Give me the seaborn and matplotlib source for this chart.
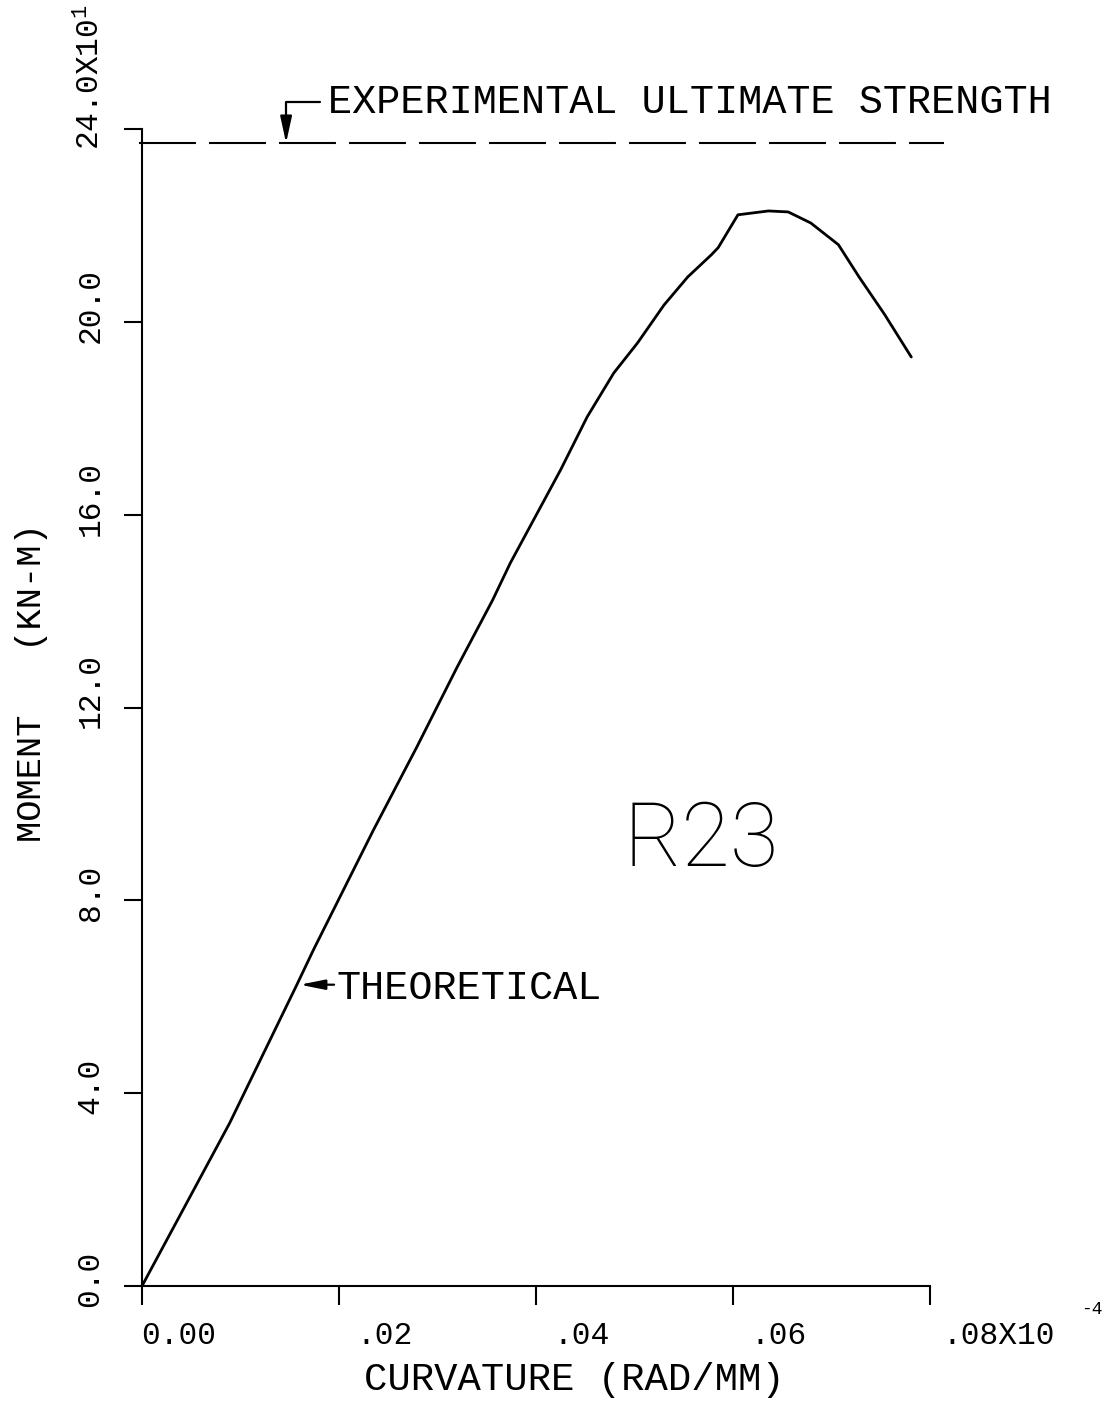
import numpy as np
import pandas as pd
import matplotlib
matplotlib.use("Agg")
import matplotlib.pyplot as plt
from matplotlib.transforms import ScaledTranslation
import seaborn as sns

# Moment-curvature response of specimen R23 (theoretical)
curvature = [0.0, 0.0089, 0.0157, 0.0174, 0.0235, 0.0279, 0.0320, 0.0356, 0.0374,
             0.0425, 0.0452, 0.0479, 0.0503, 0.0530, 0.0554, 0.0578, 0.0585,
             0.0605, 0.0636, 0.0656, 0.0679, 0.0707, 0.0728, 0.0754, 0.0781]
moment = [0.0, 3.38, 6.24, 6.97, 9.46, 11.18, 12.84, 14.23, 15.00,
          16.93, 18.03, 18.94, 19.56, 20.35, 20.93, 21.39, 21.54,
          22.22, 22.30, 22.28, 22.05, 21.60, 20.93, 20.15, 19.27]
ultimate_strength = 23.71

x_ticks = [0.0, 0.02, 0.04, 0.06, 0.08]
x_tick_labels = ["0.00", ".02", ".04", ".06", ".08X10"]
x_exponent = "-4"
y_ticks = [0.0, 4.0, 8.0, 12.0, 16.0, 20.0, 24.0]
y_tick_labels = ["0.0", "4.0", "8.0", "12.0", "16.0", "20.0", "24.0X10$^{1}$"]

sns.set_theme(style="ticks")
plt.rcParams["font.family"] = ["Liberation Mono", "DejaVu Sans Mono"]
plt.rcParams["mathtext.fontset"] = "custom"
plt.rcParams["mathtext.rm"] = "Liberation Mono"
plt.rcParams["mathtext.it"] = "Liberation Mono"
plt.rcParams["mathtext.bf"] = "Liberation Mono"

W, H = 1115, 1413
fig = plt.figure(figsize=(W / 100, H / 100), dpi=100)
ax = fig.add_axes([142 / W, 127 / H, (930 - 142) / W, (1286 - 129) / H])

df = pd.DataFrame({"curvature": curvature, "moment": moment})
sns.lineplot(data=df, x="curvature", y="moment", sort=False, color="black",
             linewidth=2.0, ax=ax)

# experimental ultimate strength (dashed)
lw_d = 1.5
ax.plot([-0.0003, 0.0814], [ultimate_strength, ultimate_strength], color="black",
        linewidth=lw_d, linestyle=(0, (41 / lw_d, 9.4 / lw_d)), clip_on=False)

ax.set_xlim(0, 0.08)
ax.set_ylim(0, 24)
sns.despine(ax=ax)
for s in ("left", "bottom"):
    ax.spines[s].set_linewidth(1.5)
    ax.spines[s].set_color("black")

ax.set_xticks(x_ticks)
ax.set_xticklabels(x_tick_labels, fontsize=22.5)
ax.set_yticks(y_ticks)
ax.set_yticklabels(y_tick_labels, fontsize=22.5)
ax.tick_params(axis="x", direction="out", length=13.5, width=1.5, color="black",
               pad=12, labelcolor="black")
ax.tick_params(axis="y", direction="out", length=13, width=1.5, color="black",
               pad=24, labelcolor="black")

for i, lab in enumerate(ax.get_xticklabels()):
    if i < len(x_ticks) - 1:
        lab.set_ha("right")
        dx = 74
    else:
        lab.set_ha("left")
        dx = 12
    lab.set_transform(lab.get_transform() + ScaledTranslation(dx / 100, 0, fig.dpi_scale_trans))

for lab in ax.get_yticklabels():
    lab.set_rotation(90)
    lab.set_rotation_mode("anchor")
    lab.set_ha("left")
    lab.set_va("center")
    lab.set_transform(lab.get_transform() + ScaledTranslation(0, -21 / 100, fig.dpi_scale_trans))

# power-of-ten exponent of the curvature scale
ax.text(0.0953, -0.48, x_exponent, fontsize=13, ha="left", va="center",
        color="black", clip_on=False)

ax.set_xlabel("CURVATURE (RAD/MM)", fontsize=28, color="black", va="center")
ax.xaxis.set_label_coords((574 - 142) / 788, (1286 - 1380) / 1157)
ax.set_ylabel("MOMENT   (KN-M)", fontsize=25.5, color="black", va="center", ha="center")
ax.yaxis.set_label_coords((32 - 142) / 788, (1286 - 683) / 1157)

# annotations
ann_size = 29
ax.text(0.01893, 24.34, "EXPERIMENTAL ULTIMATE STRENGTH", fontsize=ann_size,
        ha="left", va="baseline", color="black", clip_on=False)
ax.annotate("", xy=(0.01463, ultimate_strength), xytext=(0.01809, 24.56),
            arrowprops=dict(arrowstyle="-|>,head_length=1.6,head_width=0.35",
                            connectionstyle="angle,angleA=0,angleB=90,rad=0",
                            color="black", lw=1.6, shrinkA=0, shrinkB=0,
                            mutation_scale=10),
            annotation_clip=False)

theo_y = 6.25
theo_x = float(np.interp(theo_y, moment, curvature))
ax.text(0.0197, 5.95, "THEORETICAL", fontsize=ann_size, ha="left", va="baseline",
        color="black")
ax.annotate("", xy=(theo_x + 0.0003, theo_y), xytext=(0.0195, theo_y),
            arrowprops=dict(arrowstyle="-|>,head_length=1.5,head_width=0.3",
                            color="black", lw=1.6, shrinkA=0, shrinkB=0,
                            mutation_scale=10))

ax.text(0.0568, 8.71, "R23", fontsize=64, family=["Roboto", "DejaVu Sans"],
        fontweight="light", ha="center", va="baseline", color="black")

fig.savefig("out.png", dpi=100, facecolor="white")
